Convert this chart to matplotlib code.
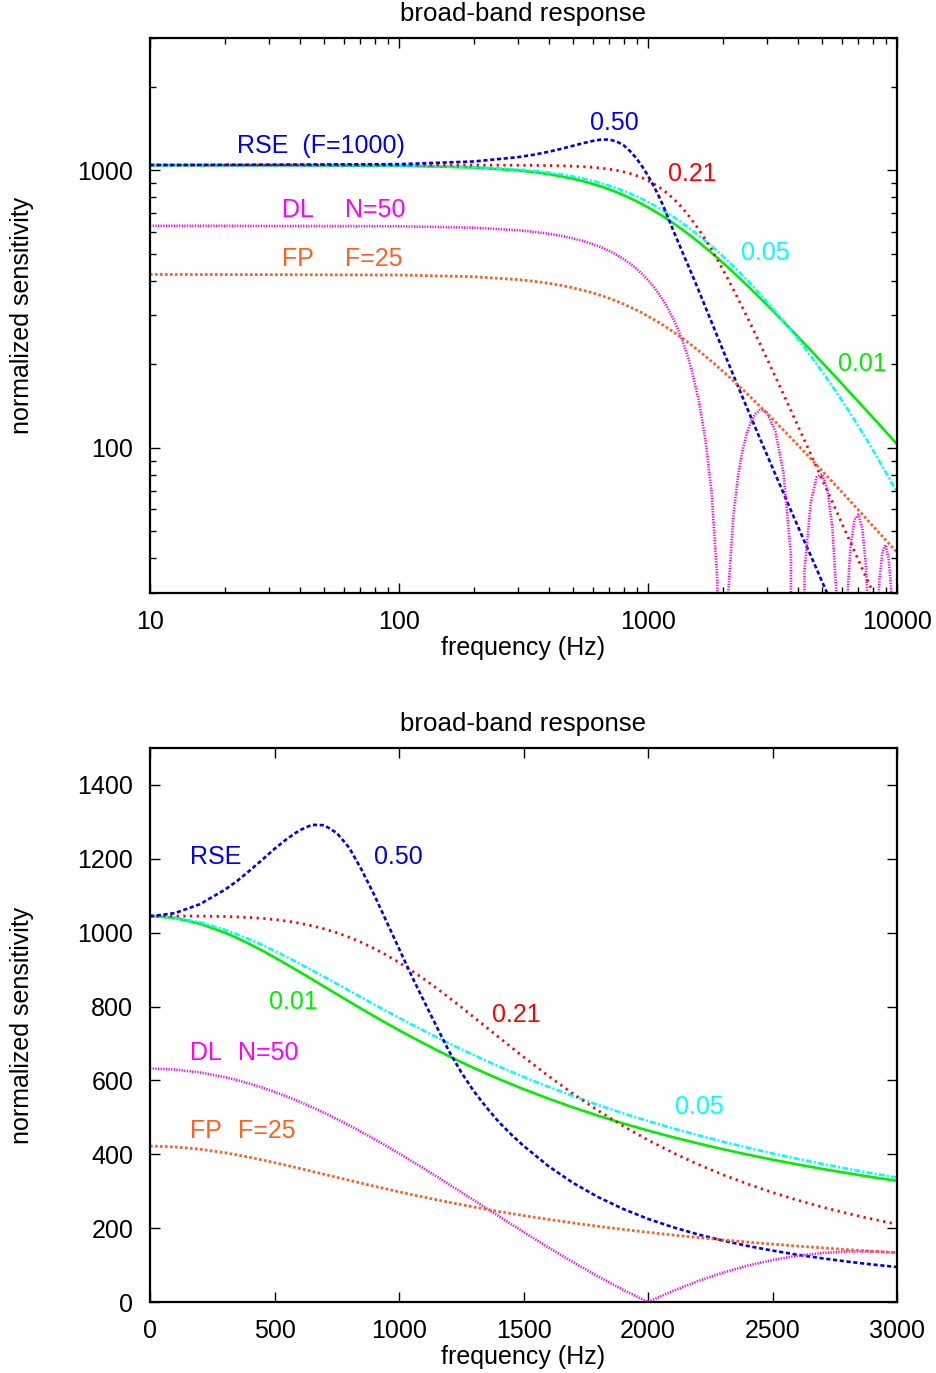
import numpy as np
import matplotlib
matplotlib.use("Agg")
import matplotlib.pyplot as plt
from matplotlib.ticker import FixedLocator, NullFormatter

plt.rcParams['font.family'] = ['Liberation Sans', 'DejaVu Sans']
plt.rcParams['lines.scale_dashes'] = False

# frequency samples (Hz), shared by both panels
freq_hz = [0, 10, 100, 200, 300, 350, 400, 450, 500, 550, 600, 650,
           700, 750, 800, 850, 900, 950, 1000, 1050, 1100, 1150, 1200, 1250,
           1300, 1350, 1400, 1450, 1500, 1600, 1700, 1800, 1900, 2000,
           2100, 2200, 2300, 2400, 2500, 2600, 2700, 2800, 2900, 3000,
           3250, 3500, 3750, 4000, 4250, 4500, 4750, 5000, 5250, 5500,
           5750, 6000, 6250, 6500, 6750, 7000, 7250, 7500, 7750, 8000,
           8250, 8500, 8750, 9000, 9250, 9500, 9750, 10000]

# RSE (F=1000), signal-extraction parameter 0.50
rse_050 = [1045, 1045, 1053, 1077, 1116, 1140, 1168, 1197, 1227, 1254, 1277, 1292,
           1291, 1270, 1230, 1170, 1103, 1030, 957, 884, 815, 747, 680, 622,
           571, 528, 488, 454, 423, 368, 322, 284, 252, 225,
           202.6, 183.1, 166.4, 151.8, 139.2, 128.0, 118.2, 109.4, 101.6, 94.7,
           80.1, 68.7, 59.5, 52.1, 46.0, 41.0, 36.7, 33.0, 29.9, 27.2,
           24.9, 22.8, 21.0, 19.4, 18.0, 16.7, 15.6, 14.5, 13.6, 12.8,
           12.0, 11.3, 10.7, 10.1, 9.5, 9.0, 8.6, 8.1]

# RSE, parameter 0.21
rse_021 = [1045, 1045, 1045, 1044.8, 1043.8, 1042.7, 1041.1, 1038.8, 1035.6, 1031.3, 1025.8, 1018.8,
           1010.2, 999.8, 987.6, 973.4, 957.2, 939.2, 919.3, 897.6, 874.5, 850.1, 824.6, 798.3,
           771.5, 744.4, 717.2, 690.2, 663.6, 612.0, 563.3, 518.1, 476.5, 438.6,
           404.2, 373.0, 344.9, 319.5, 296.5, 275.8, 257.0, 239.9, 224.5, 210.4,
           180.2, 156.0, 136.3, 120.0, 106.5, 95.1, 85.4, 77.1, 70.0, 63.8,
           58.4, 53.6, 49.4, 45.7, 42.4, 39.4, 36.7, 34.3, 32.2, 30.2,
           28.4, 26.7, 25.2, 23.9, 22.6, 21.4, 20.3, 19.3]

# RSE, parameter 0.05
rse_005 = [1045, 1045, 1040.7, 1028.1, 1008.0, 995.5, 981.7, 966.7, 950.7, 933.9, 916.4, 898.4,
           880.1, 861.6, 843.0, 824.4, 805.9, 787.6, 769.6, 751.8, 734.4, 717.4, 700.7, 684.4,
           668.6, 653.2, 638.2, 623.7, 609.5, 582.6, 557.2, 533.4, 511.0, 490.0,
           470.2, 451.7, 434.2, 417.8, 402.3, 387.7, 373.9, 360.8, 348.4, 336.7,
           309.9, 286.3, 265.3, 246.6, 229.7, 214.6, 200.9, 188.4, 177.1, 166.7,
           157.2, 148.4, 140.4, 132.9, 126.0, 119.6, 113.7, 108.2, 103.0, 98.2,
           93.7, 89.5, 85.6, 81.9, 78.4, 75.1, 72.1, 69.2]

# RSE, parameter 0.01
rse_001 = [1045, 1045, 1039.7, 1024.4, 1000.3, 985.5, 969.2, 951.7, 933.2, 913.9, 894.2, 874.1,
           853.8, 833.6, 813.5, 793.5, 773.9, 754.7, 735.9, 717.6, 699.9, 682.6, 665.8, 649.6,
           633.9, 618.8, 604.2, 590.1, 576.4, 550.7, 526.7, 504.4, 483.6, 464.3,
           446.3, 429.6, 413.9, 399.2, 385.4, 372.5, 360.4, 349.0, 338.2, 328.1,
           305.1, 285.0, 267.3, 251.5, 237.5, 225.0, 213.6, 203.4, 194.0, 185.5,
           177.7, 170.5, 163.8, 157.7, 151.9, 146.6, 141.7, 137.0, 132.7, 128.6,
           124.8, 121.1, 117.7, 114.5, 111.4, 108.5, 105.8, 103.2]

# delay line, N=50
dl_n50 = [632, 632, 629.4, 621.7, 608.9, 600.6, 591.2, 580.7, 569.0, 556.3, 542.5, 527.8,
          512.1, 495.6, 478.3, 460.3, 441.5, 422.2, 402.3, 382.0, 361.3, 340.2, 318.9, 297.4,
          275.8, 254.1, 232.5, 211.0, 189.7, 147.8, 107.4, 69.1, 33.1, 0,
          30.0, 56.5, 79.4, 98.5, 113.8, 125.2, 132.8, 136.7, 137.0, 134.1,
          114.4, 81.3, 41.1, 0, 36.2, 63.2, 78.3, 80.5, 70.8, 51.7,
          26.8, 0, 24.6, 43.8, 55.1, 57.5, 51.3, 37.9, 19.9, 0,
          18.7, 33.5, 42.5, 44.7, 40.2, 29.9, 15.8, 0]

# Fabry-Perot, F=25
fp_f25 = [422, 422, 419.9, 413.8, 404.2, 398.3, 391.8, 384.8, 377.4, 369.8, 361.9, 353.8,
          345.7, 337.6, 329.5, 321.5, 313.7, 306.0, 298.4, 291.0, 283.9, 276.9, 270.2, 263.6,
          257.3, 251.2, 245.3, 239.6, 234.1, 223.7, 214.0, 204.9, 196.5, 188.7,
          181.4, 174.6, 168.3, 162.3, 156.7, 151.5, 146.6, 141.9, 137.6, 133.4,
          124.1, 115.9, 108.7, 102.4, 96.7, 91.5, 86.9, 82.8, 79.0, 75.5,
          72.3, 69.4, 66.7, 64.2, 61.8, 59.7, 57.7, 55.8, 54.0, 52.3,
          50.8, 49.3, 47.9, 46.6, 45.4, 44.2, 43.1, 42.0]

C_BLUE = '#0000ee'
C_RED = '#ff0000'
C_CYAN = '#00ffff'
C_GREEN = '#00ee00'
C_MAGENTA = '#ff00ff'
C_ORANGE = '#ff5f1f'

LW = 1.9
series = [
    (rse_001, dict(color=C_GREEN, lw=LW, linestyle='-')),
    (rse_005, dict(color=C_CYAN, lw=LW, linestyle=(0, (4.3, 1.6, 1.4, 1.6)))),
    (rse_021, dict(color=C_RED, lw=2.0, linestyle=(0, (1.6, 3.2)))),
    (rse_050, dict(color=C_BLUE, lw=LW, linestyle=(0, (3.0, 1.9)))),
    (dl_n50, dict(color=C_MAGENTA, lw=LW, linestyle=(0, (0.9, 1.0)))),
    (fp_f25, dict(color=C_ORANGE, lw=2.0, linestyle=(0, (1.9, 1.7)))),
]

FS = 18
W, H = 936, 1373
fig = plt.figure(figsize=(W / 100, H / 100), dpi=100)
ax1 = fig.add_axes([150 / W, 1 - 593 / H, 747 / W, 555 / H])
ax2 = fig.add_axes([150 / W, 1 - 1302 / H, 747 / W, 554 / H])

f = np.array(freq_hz, dtype=float)


def style_axes(ax):
    for sp in ax.spines.values():
        sp.set_linewidth(1.6)
    ax.tick_params(which='both', direction='in', top=True, right=True,
                   labelsize=FS, width=1.0, pad=12)
    ax.tick_params(which='major', length=7)
    ax.tick_params(which='minor', length=4)
    ax.set_title('broad-band response', fontsize=18.6, pad=12)
    ax.set_xlabel('frequency (Hz)', fontsize=FS, labelpad=2)
    ax.set_ylabel('normalized sensitivity', fontsize=FS, labelpad=31)


# ---- top panel: log-log ----
pos = f >= 10
for vals, kw in series:
    ax1.plot(f[pos], np.array(vals, dtype=float)[pos], **kw)
ax1.set_xscale('log', nonpositive='clip')
ax1.set_yscale('log', nonpositive='clip')
ax1.set_xlim(10, 10000)
ax1.set_ylim(30, 3000)
ax1.set_xticks([10, 100, 1000, 10000], ['10', '100', '1000', '10000'])
ax1.xaxis.set_minor_locator(FixedLocator(
    [m * d for d in (10, 100, 1000) for m in range(2, 10)]))
ax1.xaxis.set_minor_formatter(NullFormatter())
ax1.set_yticks([100, 1000], ['100', '1000'])
ax1.yaxis.set_minor_locator(FixedLocator(
    [30, 40, 50, 60, 70, 80, 90, 200, 300, 400, 500, 600, 700, 800, 900, 2000, 3000]))
ax1.yaxis.set_minor_formatter(NullFormatter())
style_axes(ax1)

ax1.text(22.4, 1220, 'RSE  (F=1000)', color=C_BLUE, fontsize=FS, va='center')
ax1.text(585, 1488, '0.50', color=C_BLUE, fontsize=FS, va='center')
ax1.text(1203, 967, '0.21', color=C_RED, fontsize=FS, va='center')
ax1.text(2363, 503, '0.05', color=C_CYAN, fontsize=FS, va='center')
ax1.text(5794, 200.5, '0.01', color=C_GREEN, fontsize=FS, va='center')
ax1.text(33.9, 718, 'DL', color=C_MAGENTA, fontsize=FS, va='center')
ax1.text(60.5, 718, 'N=50', color=C_MAGENTA, fontsize=FS, va='center')
ax1.text(33.9, 478.6, 'FP', color=C_ORANGE, fontsize=FS, va='center')
ax1.text(60.5, 478.6, 'F=25', color=C_ORANGE, fontsize=FS, va='center')

# ---- bottom panel: linear ----
lin = f <= 3000
for vals, kw in series:
    ax2.plot(f[lin], np.array(vals, dtype=float)[lin], **kw)
ax2.set_xlim(0, 3000)
ax2.set_ylim(0, 1500)
ax2.set_xticks([0, 500, 1000, 1500, 2000, 2500, 3000])
ax2.set_yticks([0, 200, 400, 600, 800, 1000, 1200, 1400])
style_axes(ax2)

ax2.text(160, 1205, 'RSE', color=C_BLUE, fontsize=FS, va='center')
ax2.text(900, 1205, '0.50', color=C_BLUE, fontsize=FS, va='center')
ax2.text(478, 812, '0.01', color=C_GREEN, fontsize=FS, va='center')
ax2.text(1373, 777, '0.21', color=C_RED, fontsize=FS, va='center')
ax2.text(2108, 528, '0.05', color=C_CYAN, fontsize=FS, va='center')
ax2.text(160, 674, 'DL', color=C_MAGENTA, fontsize=FS, va='center')
ax2.text(353, 674, 'N=50', color=C_MAGENTA, fontsize=FS, va='center')
ax2.text(160, 463, 'FP', color=C_ORANGE, fontsize=FS, va='center')
ax2.text(353, 463, 'F=25', color=C_ORANGE, fontsize=FS, va='center')

fig.savefig('out.png', dpi=100)
